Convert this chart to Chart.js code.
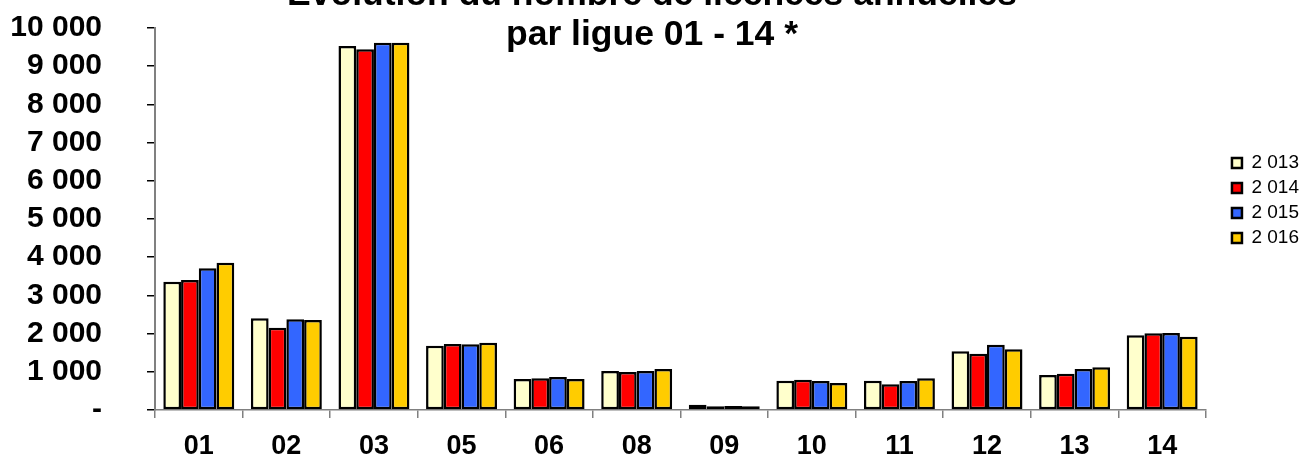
<!DOCTYPE html>
<html>
<head>
<meta charset="utf-8">
<script src="https://cdn.jsdelivr.net/npm/chart.js@4"></script>
<style>
  body { margin: 0; background: #fff; }
  #wrap { width: 1310px; height: 460px; }
</style>
</head>
<body>
<div id="wrap"><canvas id="canvas" width="1310" height="460"></canvas></div>
<script>
// data
const ligues = ["01", "02", "03", "05", "06", "08", "09", "10", "11", "12", "13", "14"];
const years = ["2 013", "2 014", "2 015", "2 016"];
const lic2013 = [3358, 2400, 9529, 1683, 812, 1021, 139, 768, 768, 1536, 916, 1955];
const lic2014 = [3403, 2155, 9442, 1728, 829, 995, 96, 794, 672, 1475, 951, 2007];
const lic2015 = [3709, 2374, 9616, 1719, 864, 1021, 105, 759, 759, 1710, 1073, 2016];
const lic2016 = [3856, 2356, 9616, 1762, 812, 1073, 96, 707, 829, 1588, 1117, 1920];
const colors = ["#FFFFCC", "#FF0000", "#3366FF", "#FFCC00"];
const titleLines = ["Evolution du nombre de licences annuelles", "par ligue 01 - 14 *"];

Chart.defaults.font.family = "'Liberation Sans', Arial, sans-serif";
Chart.defaults.color = "#000";

// build datasets
const series = [lic2013, lic2014, lic2015, lic2016];
const datasets = series.map((vals, i) => ({
  label: years[i],
  data: vals,
  backgroundColor: colors[i],
  borderColor: "#000",
  borderWidth: 2.5,
  borderSkipped: false,
  barPercentage: 1,
  categoryPercentage: 0.81,
}));

//format like "10 000", zero as "-"
function fmt(v) {
  if (v === 0) return "-";
  return String(v).replace(/\B(?=(\d{3})+(?!\d))/g, " ");
}

// title sits over the top of the plot, partly cut off like the original
const titlePlugin = {
  id: "overTitle",
  afterDraw(chart) {
    const c = chart.ctx;
    c.save();
    c.font = "bold 35.5px 'Liberation Sans', Arial, sans-serif";
    c.fillStyle = "#000";
    c.textAlign = "center";
    c.textBaseline = "alphabetic";
    c.fillText(titleLines[0], 652, 5);
    c.fillText(titleLines[1], 652, 45);
    c.restore();
  },
};

const ctx = document.getElementById("canvas").getContext("2d");
new Chart(ctx, {
  type: "bar",
  data: { labels: ligues, datasets: datasets },
  plugins: [titlePlugin],
  options: {
    responsive: false,
    animation: false,
    layout: { padding: { left: 10, right: 1, top: 28, bottom: 0 } },
    plugins: {
      title: { display: false },
      legend: {
        position: "right",
        align: "start",
        // empty title only pushes the items down
        title: { display: true, text: "", font: { size: 10 }, padding: { top: 107.5, bottom: 0 } },
        labels: {
          boxWidth: 10,
          boxHeight: 10,
          padding: 6,
          font: { size: 19 },
          color: "#000",
        },
      },
      tooltip: { enabled: false },
    },
    scales: {
      x: {
        grid: { drawOnChartArea: false, tickLength: 8, color: "#808080", lineWidth: 1.5 },
        border: { color: "#808080", width: 1.5 },
        ticks: { font: { size: 27, weight: "bold", lineHeight: 1 }, padding: 15, color: "#000" },
        afterFit: (s) => { s.height = 50; },
      },
      y: {
        min: 0,
        max: 10000,
        grid: { drawOnChartArea: false, tickLength: 8, color: "#000", lineWidth: 1.5 },
        border: { color: "#808080", width: 2 },
        ticks: {
          stepSize: 1000,
          autoSkip: false,
          padding: 45,
          font: { size: 30, weight: "bold" },
          color: "#000",
          callback: (v) => fmt(v),
        },
        // big label gap is counted twice by chart.js, so pin the sizes
        afterFit: (s) => {
          s.width = 145;
          s.paddingTop = 0;
          s.paddingBottom = 0;
        },
      },
      // empty spacer between plot and legend
      gap: {
        position: "right",
        grid: { display: false },
        border: { display: false },
        ticks: { display: false },
        afterFit: (s) => { s.width = 20; },
      },
    },
  },
});
</script>
</body>
</html>
